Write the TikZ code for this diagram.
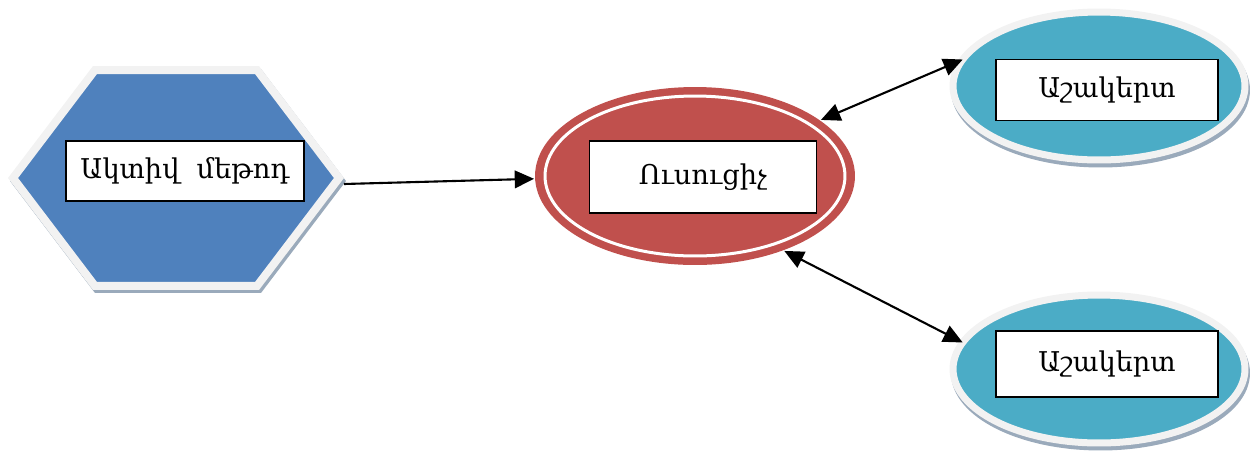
\documentclass[tikz,border=0pt]{standalone}
\usepackage{fontspec}
\setmainfont{DejaVu Serif}
\usetikzlibrary{arrows.meta,shapes.geometric,shapes.symbols,shadows}
\definecolor{hexblue}{HTML}{4F81BD}
\definecolor{teachred}{HTML}{C0504D}
\definecolor{pupilcyan}{HTML}{4BACC6}
\definecolor{rimgray}{HTML}{F2F2F2}
\definecolor{shadegray}{HTML}{9AAABB}

\begin{document}
\begin{tikzpicture}[x=0.02cm,y=-0.02cm,>={Triangle[length=11pt,width=10pt]},line width=1.2pt]
		\tikzstyle{label box}=[rectangle, draw=black, fill=white, line width=1.1pt, inner sep=0pt, font=\fontsize{15.5}{18}\selectfont]
		\tikzstyle{method}=[signal, signal to=west and east, signal pointer angle=105.6, minimum width=6.52cm, minimum height=4.32cm, fill=hexblue, draw=rimgray, line width=0.16cm, general shadow={shadow xshift=0.04cm, shadow yshift=-0.06cm, fill=shadegray, draw=shadegray, line width=0.16cm}]
		\tikzstyle{teacher}=[ellipse, minimum width=6.4cm, minimum height=3.56cm, fill=teachred, inner sep=0pt]
		\tikzstyle{ring}=[ellipse, minimum width=6.0cm, minimum height=3.2cm, draw=white, line width=0.06cm, inner sep=0pt]
		\tikzstyle{pupil}=[ellipse, minimum width=5.84cm, minimum height=2.96cm, fill=pupilcyan, draw=rimgray, line width=0.14cm, inner sep=0pt, outer sep=0pt, general shadow={shadow xshift=0.03cm, shadow yshift=-0.08cm, fill=shadegray, draw=shadegray, line width=0.14cm}]

		\useasboundingbox (0,0) rectangle (1251,454);

		% shapes
		\node [method] (method) at (176,178) {};
		\node [teacher] (teacher) at (695,176) {};
		\node [ring] (ring) at (teacher.center) {};
		\node [pupil] (pupila) at (1099,86) {};
		\node [pupil] (pupilb) at (1099,369) {};

		% texts
		\node [label box, minimum width=4.76cm, minimum height=1.2cm] (methodtxt) at (185,171) {Ակտիվ\ \ մեթոդ};
		\node [label box, minimum width=4.54cm, minimum height=1.44cm] (teachertxt) at (703,177) {Ուսուցիչ};
		\node [label box, minimum width=4.44cm, minimum height=1.22cm] (pupilatxt) at (1107,90) {Աշակերտ};
		\node [label box, minimum width=4.44cm, minimum height=1.32cm] (pupilbtxt) at (1107,364) {Աշակերտ};

		% connectors
		\draw [->] ([yshift=-0.12cm]method.east) -- (teacher.181.5);
		\draw [<->] (teacher.24.5) -- (pupila.169);
		\draw [<->] (teacher.-40) -- (pupilb.169);
\end{tikzpicture}
\end{document}
